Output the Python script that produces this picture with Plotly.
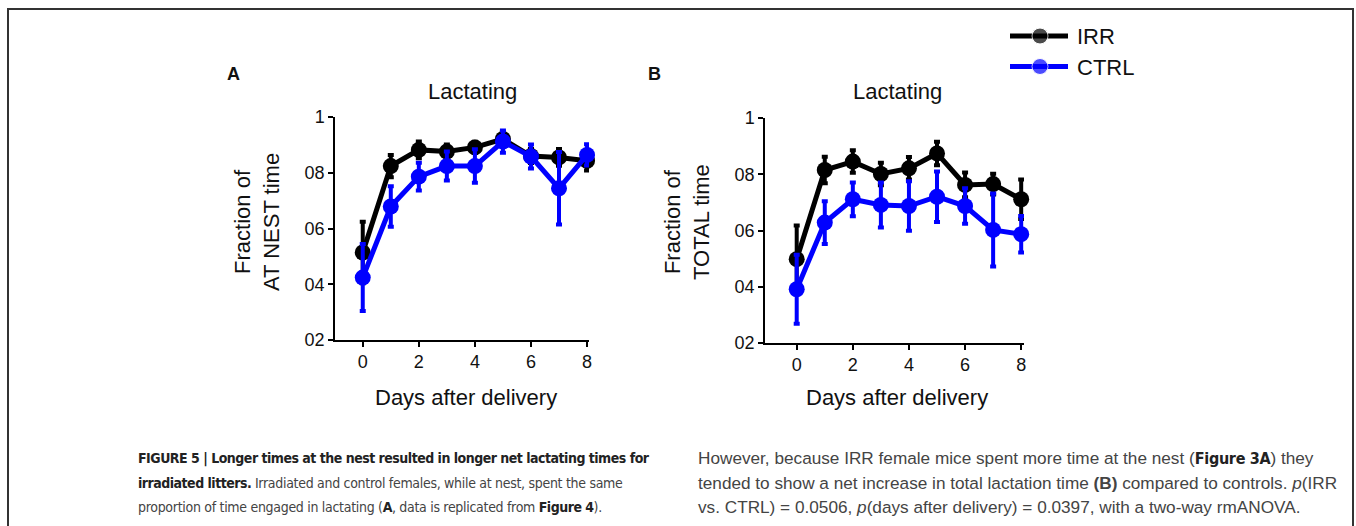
import plotly.graph_objects as go

days = [0, 1, 2, 3, 4, 5, 6, 7, 8]

# Panel A: fraction of AT NEST time
a_irr = [0.514, 0.824, 0.882, 0.876, 0.891, 0.921, 0.860, 0.855, 0.843]
a_irr_err = [0.11, 0.04, 0.03, 0.025, 0.02, 0.025, 0.025, 0.03, 0.035]
a_ctrl = [0.424, 0.679, 0.786, 0.824, 0.824, 0.912, 0.858, 0.744, 0.864]
a_ctrl_err = [0.12, 0.073, 0.05, 0.052, 0.06, 0.04, 0.043, 0.13, 0.038]

# Panel B: fraction of TOTAL time
b_irr = [0.498, 0.815, 0.845, 0.801, 0.821, 0.874, 0.762, 0.765, 0.711]
b_irr_err = [0.12, 0.047, 0.04, 0.04, 0.04, 0.042, 0.044, 0.037, 0.07]
b_ctrl = [0.391, 0.628, 0.711, 0.691, 0.687, 0.720, 0.687, 0.602, 0.587]
b_ctrl_err = [0.123, 0.076, 0.06, 0.08, 0.088, 0.09, 0.063, 0.13, 0.065]

ytick_vals = [0.2, 0.4, 0.6, 0.8, 1.0]
ytick_text = ["02", "04", "06", "08", "1"]
xtick_vals = [0, 2, 4, 6, 8]

W, H = 1356, 526
FONT = "Liberation Sans, Arial, sans-serif"
COND = "DejaVu Sans Condensed, Liberation Sans, sans-serif"
BLACK = "#000000"
BLUE = "#0000ff"


def px(x):
    return x / W


def py(y):
    return 1 - y / H


fig = go.Figure()


def add_series(xa, ya, y, err, color, name):
    fig.add_trace(go.Scatter(
        x=days, y=y, mode="lines+markers", name=name, showlegend=False,
        xaxis=xa, yaxis=ya, cliponaxis=False,
        line=dict(color=color, width=5),
        marker=dict(color=color, size=16, symbol="circle"),
        error_y=dict(type="data", array=err, visible=True, color=color,
                     thickness=4, width=3),
    ))


add_series("x", "y", a_irr, a_irr_err, BLACK, "IRR")
add_series("x", "y", a_ctrl, a_ctrl_err, BLUE, "CTRL")
add_series("x2", "y2", b_irr, b_irr_err, BLACK, "IRR")
add_series("x2", "y2", b_ctrl, b_ctrl_err, BLUE, "CTRL")

# legend drawn in a helper axis (pixel-like coordinates)
leg_x = [10, 40, 68]
for yy, color in [(36, BLACK), (66.5, BLUE)]:
    fig.add_trace(go.Scatter(
        x=leg_x, y=[yy] * 3, mode="lines+markers", showlegend=False,
        xaxis="x3", yaxis="y3", cliponaxis=False, hoverinfo="skip",
        line=dict(color=color, width=5),
        marker=dict(color=color, size=[0, 16, 0], symbol="circle"),
    ))

axis_common = dict(
    showline=True, linecolor="black", linewidth=1.5, ticks="outside",
    ticklen=5, tickwidth=1.5, tickcolor="black", showgrid=False,
    zeroline=False, mirror=False, automargin=False,
    tickfont=dict(family=FONT, size=18, color="#111"),
)

fig.update_layout(
    width=W, height=H,
    margin=dict(l=0, r=0, t=0, b=0, pad=0, autoexpand=False),
    paper_bgcolor="white", plot_bgcolor="white",
    showlegend=False,
    xaxis=dict(domain=[px(335), px(589)], range=[-0.99, 8.07],
               tickvals=xtick_vals, anchor="y", **axis_common),
    yaxis=dict(domain=[py(340), py(117)], range=[0.2, 1.0],
               tickvals=ytick_vals, ticktext=ytick_text, anchor="x",
               **axis_common),
    xaxis2=dict(domain=[px(765), px(1024)], range=[-1.13, 8.1],
                tickvals=xtick_vals, anchor="y2", **axis_common),
    yaxis2=dict(domain=[py(343), py(118)], range=[0.2, 1.0],
                tickvals=ytick_vals, ticktext=ytick_text, anchor="x2",
                **axis_common),
    xaxis3=dict(domain=[px(1000), px(1080)], range=[0, 80], visible=False,
                anchor="y3", fixedrange=True, automargin=False),
    yaxis3=dict(domain=[py(90), py(20)], range=[90, 20], visible=False,
                anchor="x3", fixedrange=True, automargin=False),
)

ann = []


def text(x, y, s, size, xanchor="center", **kw):
    d = dict(x=px(x), y=py(y), xref="paper", yref="paper", text=s,
             xanchor=xanchor, yanchor="middle",
             showarrow=False, font=dict(family=kw.pop("family", FONT), size=size,
                                         color=kw.pop("color", "#111")))
    d.update(kw)
    ann.append(d)


# panel labels
text(233, 74, "<b>A</b>", 18)
text(654, 74, "<b>B</b>", 18)
# titles
text(472, 92, "Lactating", 22)
text(897, 92, "Lactating", 22)
# x titles
text(466, 397, "Days after delivery", 22)
text(897, 397, "Days after delivery", 22)
# y titles
text(257, 222, "Fraction of<br>AT NEST time", 22, textangle=-90)
text(687, 222, "Fraction of<br>TOTAL time", 22, textangle=-90)
# legend text
text(1075, 37, "IRR", 22, xanchor="left")
text(1075, 67, "CTRL", 22, xanchor="left")


# caption helpers
def B(s, size=14, ls=-0.5):
    return ('<span style="font-family:\'DejaVu Sans Condensed\';font-weight:bold;'
            'font-size:%spx;letter-spacing:%spx;fill:#222">' % (size, ls) + s + '</span>')


def R(s):
    return '<span style="letter-spacing:-0.3px">' + s + '</span>'


cap_left = [
    B("FIGURE 5 | Longer times at the nest resulted in longer net lactating times for"),
    B("irradiated litters.") + R(" Irradiated and control females, while at nest, spent the same"),
    R("proportion of time engaged in lactating (") + B("A") + R(", data is replicated from ")
    + B("Figure 4") + R(")."),
]
cap_right = [
    "However, because IRR female mice spent more time at the nest (" + B("Figure 3A", 16, -0.3)
    + ") they",
    "tended to show a net increase in total lactation time <b>(B)</b>"
    + " compared to controls. <i>p</i>(IRR",
    "vs. CTRL) = 0.0506, <i>p</i>(days after delivery) = 0.0397, with a two-way rmANOVA.",
]
for i, (l, r) in enumerate(zip(cap_left, cap_right)):
    yy = 458 + i * 24.5
    text(136, yy, l, 14, xanchor="left", family=COND, color="#444")
    text(696, yy, r, 17.2, xanchor="left", family=FONT, color="#444")

fig.update_layout(annotations=ann)

# frame
fig.add_shape(type="rect", xref="paper", yref="paper",
              x0=px(8), x1=px(1353), y0=py(540), y1=py(9),
              line=dict(color="#333", width=2), layer="below")

fig.write_html("out.html")
